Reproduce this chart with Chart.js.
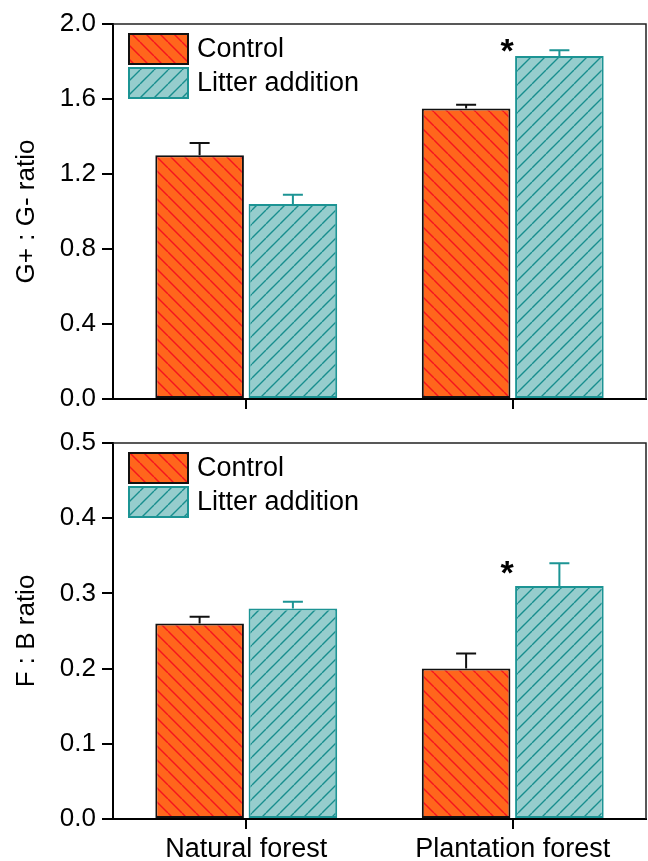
<!DOCTYPE html>
<html>
<head>
<meta charset="utf-8">
<script src="https://cdn.jsdelivr.net/npm/chart.js@4.4.1/dist/chart.umd.min.js"></script>
<style>
  html, body { margin: 0; padding: 0; background: #fff; }
  #wrap { position: relative; width: 648px; height: 861px; overflow: hidden; }
  #c1 { position: absolute; left: 0; top: 0; }
  #c2 { position: absolute; left: 0; top: 421px; }
</style>
</head>
<body>
<div id="wrap">
  <canvas id="c1" width="648" height="421"></canvas>
  <canvas id="c2" width="648" height="440"></canvas>
</div>
<script>
// ---------------- data ----------------
const categories = ['Natural forest', 'Plantation forest'];
const seriesNames = ['Control', 'Litter addition'];

// Top panel: G+ : G- ratio
const gRatioControl = [1.30, 1.55];
const gRatioControlErr = [0.065, 0.02];
const gRatioLitter = [1.04, 1.83];
const gRatioLitterErr = [0.05, 0.03];
const gRatioSigLabel = ['', '*'];
const gRatioSigPos = [null, 1.90];
const gRatioTicks = [0.0, 0.4, 0.8, 1.2, 1.6, 2.0];

// Bottom panel: F : B ratio
const fbControl = [0.26, 0.20];
const fbControlErr = [0.009, 0.02];
const fbLitter = [0.28, 0.31];
const fbLitterErr = [0.009, 0.03];
const fbSigLabel = ['', '*'];
const fbSigPos = [null, 0.338];
const fbTicks = [0.0, 0.1, 0.2, 0.3, 0.4, 0.5];

// ---------------- styling ----------------
const FONT = "'Liberation Sans', Arial, Helvetica, sans-serif";
Chart.defaults.font.family = FONT;
Chart.defaults.color = '#000';

function hatch(bg, fg, dir) {
  const s = 14;
  const c = document.createElement('canvas');
  c.width = s; c.height = s;
  const x = c.getContext('2d');
  x.fillStyle = bg; x.fillRect(0, 0, s, s);
  x.strokeStyle = fg; x.lineWidth = 1.4;
  x.beginPath();
  for (const k of [-s, 0, s]) {
    if (dir === 'back') { x.moveTo(k, 0); x.lineTo(k + s, s); }
    else { x.moveTo(k, s); x.lineTo(k + s, 0); }
  }
  x.stroke();
  return x.createPattern(c, 'repeat');
}
const ctrlFill = hatch('#FF661C', '#F5141E', 'back');
const litFill = hatch('#96CDCD', '#188E8E', 'fwd');
const ctrlBorder = '#111';
const litBorder = '#1C9494';

// error bars, significance marks, frame, legend
const extras = {
  id: 'extras',
  afterDatasetsDraw(chart, args, opts) {
    const ctx = chart.ctx;
    const ys = chart.scales.y;
    const area = chart.chartArea;
    ctx.save();
    // error bars
    chart.data.datasets.forEach((ds, di) => {
      const meta = chart.getDatasetMeta(di);
      meta.data.forEach((bar, i) => {
        const v = ds.data[i], e = ds.err[i];
        const y0 = ys.getPixelForValue(v);
        const y1 = ys.getPixelForValue(v + e);
        ctx.strokeStyle = ds.borderColor;
        ctx.lineWidth = 2;
        ctx.beginPath();
        ctx.moveTo(bar.x, y0); ctx.lineTo(bar.x, y1);
        ctx.moveTo(bar.x - 10, y1); ctx.lineTo(bar.x + 10, y1);
        ctx.stroke();
      });
    });
    // significance markers
    const lastMeta = chart.getDatasetMeta(chart.data.datasets.length - 1);
    opts.sigLabel.forEach((lab, i) => {
      if (!lab) return;
      const bar = lastMeta.data[i];
      const cx = bar.x - bar.width / 2 - 8;
      const cy = ys.getPixelForValue(opts.sigPos[i]);
      ctx.fillStyle = '#000';
      ctx.font = 'bold 34px ' + FONT;
      ctx.textAlign = 'center';
      ctx.textBaseline = 'alphabetic';
      ctx.fillText(lab, cx, cy + 0.57 * 34);
    });
    // frame (top and right)
    ctx.strokeStyle = '#222';
    ctx.lineWidth = 1.5;
    ctx.beginPath();
    ctx.moveTo(area.left, area.top); ctx.lineTo(area.right, area.top);
    ctx.lineTo(area.right, area.bottom);
    ctx.stroke();
    // legend
    chart.data.datasets.forEach((ds, di) => {
      const x0 = area.left + 16, y0 = area.top + 10 + di * 34;
      ctx.fillStyle = ds.backgroundColor;
      ctx.fillRect(x0, y0, 59, 30);
      ctx.strokeStyle = ds.borderColor;
      ctx.lineWidth = 2;
      ctx.strokeRect(x0, y0, 59, 30);
      ctx.fillStyle = '#000';
      ctx.font = '27px ' + FONT;
      ctx.textAlign = 'left';
      ctx.textBaseline = 'middle';
      ctx.fillText(ds.label, x0 + 68, y0 + 16);
    });
    ctx.restore();
  }
};

function makeChart(canvasId, ctrl, ctrlErr, lit, litErr, tickVals, yTitle, sigLabel, sigPos, showX, padTop, xHeight) {
  const yMax = tickVals[tickVals.length - 1];
  return new Chart(document.getElementById(canvasId), {
    type: 'bar',
    data: {
      labels: categories,
      datasets: [
        { label: seriesNames[0], data: ctrl, err: ctrlErr, backgroundColor: ctrlFill, borderColor: ctrlBorder, borderWidth: 2, borderSkipped: false },
        { label: seriesNames[1], data: lit, err: litErr, backgroundColor: litFill, borderColor: litBorder, borderWidth: 2, borderSkipped: false }
      ]
    },
    options: {
      responsive: false,
      animation: false,
      devicePixelRatio: 1,
      layout: { padding: { left: 0, right: 2, top: padTop, bottom: 0 } },
      categoryPercentage: 0.70,
      barPercentage: 0.95,
      plugins: {
        legend: { display: false },
        tooltip: { enabled: false },
        extras: { sigLabel: sigLabel, sigPos: sigPos }
      },
      scales: {
        x: {
          grid: { display: true, offset: false, drawOnChartArea: false, drawTicks: true, tickLength: 10, color: '#000', lineWidth: 2 },
          border: { display: true, color: '#000', width: 2 },
          ticks: { display: showX, padding: 4, font: { size: 27 }, color: '#000', maxRotation: 0 },
          afterFit(s) { s.height = xHeight; }
        },
        y: {
          min: 0, max: yMax,
          afterBuildTicks(s) { s.ticks = tickVals.map(v => ({ value: v })); },
          grid: { display: true, drawOnChartArea: false, drawTicks: true, tickLength: 11, color: '#000', lineWidth: 2 },
          border: { display: true, color: '#000', width: 2 },
          ticks: { padding: 6, font: { size: 26 }, color: '#000', callback: v => Number(v).toFixed(1) },
          title: { display: true, text: yTitle, font: { size: 26 }, color: '#000', padding: { top: 11, bottom: 0 } },
          afterFit(s) { s.width = 113; }
        }
      }
    },
    plugins: [extras]
  });
}

makeChart('c1', gRatioControl, gRatioControlErr, gRatioLitter, gRatioLitterErr, gRatioTicks,
  'G+ : G- ratio', gRatioSigLabel, gRatioSigPos, false, 24, 22);
makeChart('c2', fbControl, fbControlErr, fbLitter, fbLitterErr, fbTicks,
  'F : B ratio', fbSigLabel, fbSigPos, true, 22, 42);
</script>
</body>
</html>
